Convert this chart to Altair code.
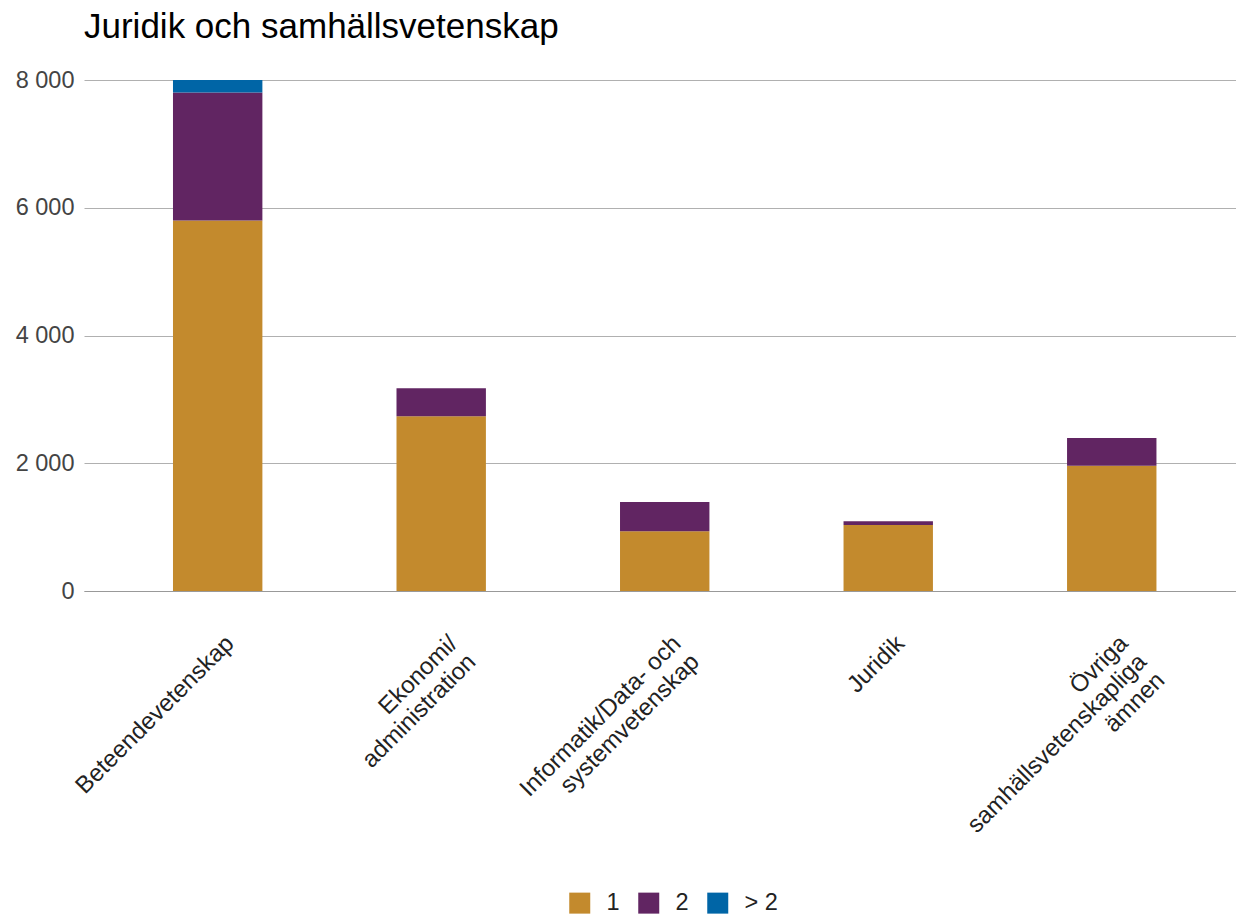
import altair as alt
import pandas as pd

categories = [
    "Beteendevetenskap",
    "Ekonomi/|administration",
    "Informatik/Data- och|systemvetenskap",
    "Juridik",
    "Övriga|samhällsvetenskapliga|ämnen",
]
series = ["1", "2", "> 2"]
values_1 = [5800, 2735, 935, 1035, 1960]
values_2 = [2005, 440, 460, 57, 437]
values_3 = [195, 0, 0, 0, 0]
colors = ["#C38A2D", "#612562", "#0065A6"]
y_ticks = [0, 2000, 4000, 6000, 8000]

rows = []
for i, c in enumerate(categories):
    for j, vals in enumerate([values_1, values_2, values_3]):
        rows.append({"kategori": c, "antal": series[j], "varde": vals[i], "ordning": j})
df = pd.DataFrame(rows)

FONT = "Liberation Sans"

chart = (
    alt.Chart(df)
    .mark_bar()
    .encode(
        x=alt.X(
            "kategori:N",
            sort=categories,
            scale=alt.Scale(paddingInner=0.6, paddingOuter=0.377, align=0.528),
            axis=alt.Axis(
                title=None,
                labelAngle=-45,
                labelAlign="right",
                labelBaseline="top",
                labelPadding=40,
                labelOffset=4,
                ticks=False,
                domainColor="#999999",
                labelFontSize=24,
                labelColor="#222222",
                labelFont=FONT,
                labelExpr="split(datum.label, '|')",
                labelLineHeight=26,
                labelLimit=1000,
                labelOverlap=False,
                labelBound=False,
            ),
        ),
        y=alt.Y(
            "varde:Q",
            stack="zero",
            scale=alt.Scale(domain=[0, 8000], nice=False),
            axis=alt.Axis(
                title=None,
                values=y_ticks,
                labelExpr="replace(format(datum.value, ',d'), ',', ' ')",
                ticks=False,
                domain=False,
                gridColor="#b0b0b0",
                labelFontSize=23.5,
                labelColor="#444444",
                labelFont=FONT,
                labelPadding=10,
                minExtent=76,
                maxExtent=76,
            ),
        ),
        color=alt.Color(
            "antal:N",
            scale=alt.Scale(domain=series, range=colors),
            legend=alt.Legend(
                title=None,
                orient="none",
                legendX=484,
                legendY=811,
                direction="horizontal",
                symbolType="square",
                symbolSize=441,
                symbolStrokeWidth=0,
                symbolOpacity=1,
                labelFontSize=23.5,
                labelFont=FONT,
                labelColor="#222222",
                labelOffset=15,
                columnPadding=17,
                padding=0,
            ),
        ),
        order=alt.Order("ordning:Q", sort="ascending"),
    )
    .properties(
        width=1152,
        height=511,
        padding={"left": 0, "top": 2, "right": 0, "bottom": 0},
        title=alt.Title(
            "Juridik och samhällsvetenskap",
            anchor="start",
            frame="group",
            fontSize=35,
            font=FONT,
            fontWeight="normal",
            color="#000000",
            offset=23,
        ),
    )
    .configure_view(stroke=None)
)

chart.save("out.html", embed_options={"renderer": "svg", "actions": False})
